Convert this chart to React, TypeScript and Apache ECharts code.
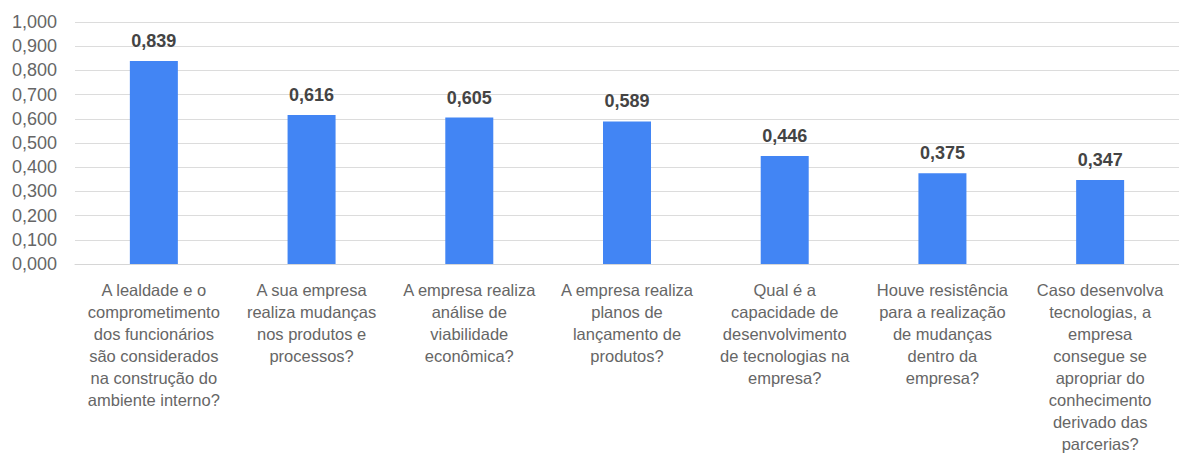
import React, { useEffect, useRef } from "react";
import * as echarts from "echarts";

const categories = [
  "A lealdade e o\ncomprometimento\ndos funcionários\nsão considerados\nna construção do\nambiente interno?",
  "A sua empresa\nrealiza mudanças\nnos produtos e\nprocessos?",
  "A empresa realiza\nanálise de\nviabilidade\neconômica?",
  "A empresa realiza\nplanos de\nlançamento de\nprodutos?",
  "Qual é a\ncapacidade de\ndesenvolvimento\nde tecnologias na\nempresa?",
  "Houve resistência\npara a realização\nde mudanças\ndentro da\nempresa?",
  "Caso desenvolva\ntecnologias, a\nempresa\nconsegue se\napropriar do\nconhecimento\nderivado das\nparcerias?",
];

const values = [0.839, 0.616, 0.605, 0.589, 0.446, 0.375, 0.347];

const yMin = 0;
const yMax = 1;
const yInterval = 0.1;

const fmt = (v: number) => v.toFixed(3).replace(".", ",");

export default function App() {
  const ref = useRef<HTMLDivElement>(null);
  useEffect(() => {
    if (!ref.current) return;
    const chart = echarts.init(ref.current, undefined, { renderer: "svg" });
    chart.setOption({
      animation: false,
      backgroundColor: "#ffffff",
      grid: { left: 75, right: -3, top: 22, bottom: 191, containLabel: false },
      xAxis: {
        type: "category",
        data: categories,
        axisLine: { show: true, lineStyle: { color: "#d6d6d6", width: 1 } },
        axisTick: { show: false },
        axisLabel: {
          interval: 0,
          margin: 15,
          color: "#666666",
          fontFamily: "'Liberation Sans', Arial, sans-serif",
          fontSize: 16.5,
          lineHeight: 22,
          align: "center",
        },
      },
      yAxis: {
        type: "value",
        min: yMin,
        max: yMax,
        interval: yInterval,
        axisLine: { show: false },
        axisTick: { show: false },
        splitLine: { show: true, lineStyle: { color: "#dcdcdc", width: 1 } },
        axisLabel: {
          formatter: (v: number) => fmt(v),
          color: "#666666",
          fontFamily: "'Liberation Sans', Arial, sans-serif",
          fontSize: 18,
          margin: 18,
        },
      },
      series: [
        {
          type: "bar",
          data: values,
          barWidth: 48,
          itemStyle: { color: "#4285f4" },
          label: {
            show: true,
            position: "top",
            distance: 11,
            formatter: (p: any) => fmt(p.value),
            color: "#444444",
            fontWeight: "bold",
            fontFamily: "'Liberation Sans', Arial, sans-serif",
            fontSize: 18,
          },
        },
      ],
    });
    return () => chart.dispose();
  }, []);
  return (
    <div
      ref={ref}
      style={{ position: "absolute", left: 0, top: 0, width: 1179, height: 455 }}
    />
  );
}
